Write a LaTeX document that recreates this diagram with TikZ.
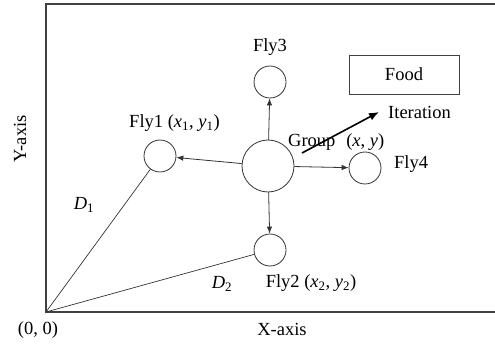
\documentclass[tikz,border=0pt]{standalone}
\usepackage{fontspec}
\setmainfont{Liberation Serif}
\usetikzlibrary{arrows.meta}
\begin{document}
\begin{tikzpicture}[x=1pt,y=-1pt,
  lbl/.style={inner sep=0pt,font=\fontsize{18.5}{21}\selectfont},
  fly/.style={circle,draw=black!80,line width=0.8pt,minimum size=32pt,inner sep=0pt},
  conn/.style={draw=black!80,line width=0.8pt,-{Latex[length=7pt,width=5.5pt]}},
  axis/.style={draw=black!75,line width=1.6pt}]
\useasboundingbox (0,0) rectangle (495,347);
\draw[axis] (495,4) -- (46,4) -- (46,312) -- (495,312);
\coordinate (o) at (46,312);
\node[fly] (f1) at (160,156) {};
\node[fly,minimum size=52pt] (g) at (268,166) {};
\node[fly] (f3) at (270,82) {};
\node[fly] (f4) at (365,168) {};
\node[fly] (f2) at (270,250) {};
\node[draw=black!75,line width=0.9pt,minimum width=110pt,minimum height=39pt,inner sep=0pt,lbl] (food) at (404,74.5) {Food};
\draw[conn] (g) -- (f1);
\draw[conn] (g) -- (f3);
\draw[conn] (g) -- (f4);
\draw[conn] (g) -- (f2);
\draw[draw=black!80,line width=0.7pt] (o) -- (f1);
\draw[draw=black!80,line width=0.7pt] (o) -- (f2);
\node[lbl] (lf1) at (174.5,123) {Fly1 (\textit{x}\textsubscript{1}, \textit{y}\textsubscript{1})};
\node[lbl] (lf3) at (270,47) {Fly3};
\node[lbl,anchor=west] (lg) at (288,142) {Group\,\, (\textit{x}, \textit{y})};
\node[lbl,anchor=west] (lf4) at (394,164) {Fly4};
\node[lbl] (lf2) at (311,283) {Fly2 (\textit{x}\textsubscript{2}, \textit{y}\textsubscript{2})};
\node[lbl] (d1) at (84,205) {\textit{D}\textsubscript{1}};
\node[lbl] (d2) at (222,284) {\textit{D}\textsubscript{2}};
\node[lbl] (lo) at (38,330) {(0, 0)};
\node[lbl] (lx) at (282,329) {X-axis};
\node[lbl,rotate=90] (ly) at (20,139) {Y-axis};
\node[lbl,anchor=west] (it) at (388,112) {Iteration};
\coordinate (is) at (302,153);
\coordinate (ie) at (379,112);
\draw[black,line width=1.6pt,-{Latex[length=10pt,width=8pt]}] (is) -- (ie);
\end{tikzpicture}
\end{document}
